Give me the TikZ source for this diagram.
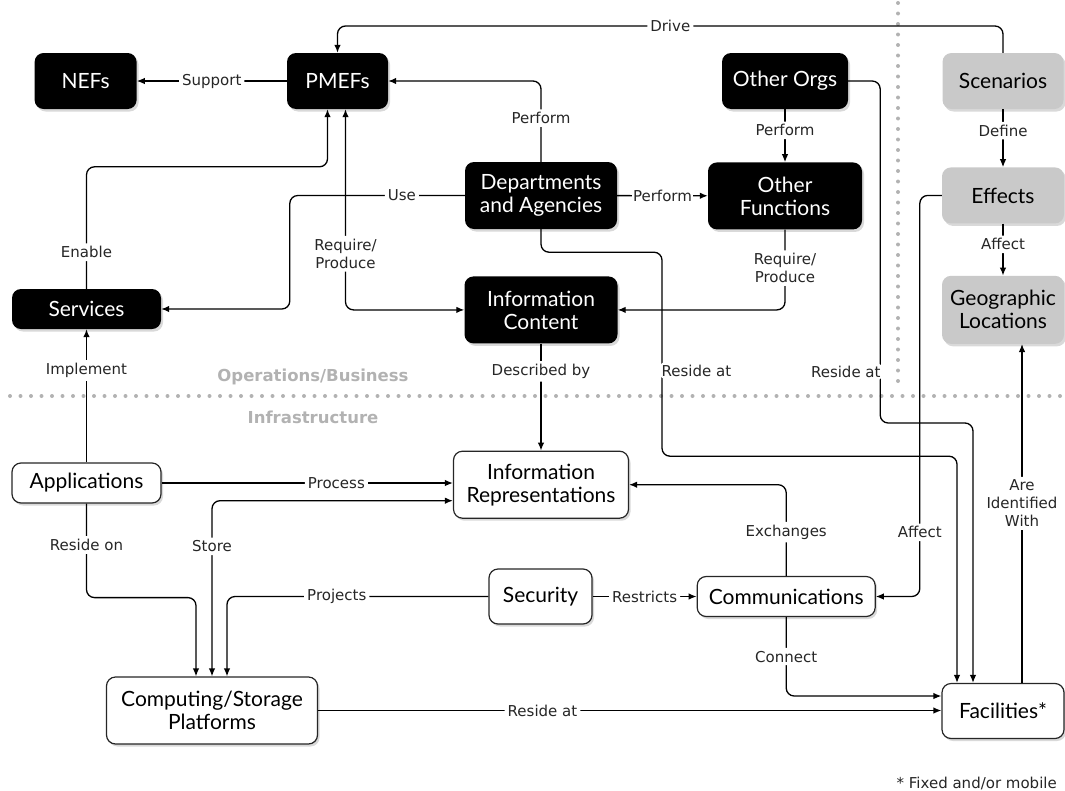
\documentclass[tikz,border=0pt]{standalone}
\usepackage{fontspec}
\newfontfamily\boxfont{Lato}
\newfontfamily\lblfont{DejaVu Sans}
\usetikzlibrary{arrows.meta, positioning, shadows}

\begin{document}
\begin{tikzpicture}[
    x=1pt, y=-1pt,
    every node/.style={font=\boxfont\fontsize{21}{23}\selectfont},
    box/.style={
        rounded corners=9pt,
        align=center,
        inner sep=3pt,
        drop shadow={shadow xshift=2pt, shadow yshift=-2.5pt, opacity=.3}
    },
    ops/.style={box, fill=black, text=white},
    threat/.style={box, fill=gray!42, text=black},
    infra/.style={box, draw=black!85, line width=1.2pt, fill=white, text=black},
    lbl/.style={font=\lblfont\fontsize{15}{18}\selectfont, fill=white, inner sep=3pt, text=black!85, align=center},
    zone/.style={font=\lblfont\bfseries\fontsize{16.5}{18}\selectfont, text=black!30},
    sepline/.style={draw=black!30, line width=4pt, line cap=round, dash pattern=on 0pt off 10.5pt},
    arrow/.style={-{Latex[length=8pt,width=6.5pt]}, line width=1.3pt, rounded corners=8pt},
    arrowboth/.style={arrow, {Latex[length=8pt,width=6.5pt]}-{Latex[length=8pt,width=6.5pt]}}
]
\useasboundingbox (0,0) rectangle (1065,790);

% zone separators
\draw[sepline] (10,396) -- (1062,396);
\draw[sepline] (898,3) -- (898,388);
\node[zone] (opslbl) at (313,377) {Operations/Business};
\node[zone] (infralbl) at (313,417) {Infrastructure};

% operations / business
\node[ops, minimum width=101pt, minimum height=56pt] (pmefs) at (337.5,81) {PMEFs};
\node[ops, minimum width=102pt, minimum height=56pt, left=150pt of pmefs] (nefs) {NEFs};
\node[ops, minimum width=126pt, minimum height=56pt] (orgs) at (785,81) {Other Orgs};
\node[ops, minimum width=152pt, minimum height=67pt] (dept) at (541,195.5) {Departments\\and Agencies};
\node[ops, minimum width=154pt, minimum height=67pt, below=53pt of orgs] (ofun) {Other\\Functions};
\node[ops, minimum width=149pt, minimum height=40pt] (services) at (86.5,309) {Services};
\node[ops, minimum width=153pt, minimum height=67pt, below=47pt of dept] (icont) {Information\\Content};

% threats
\node[threat, minimum width=121pt, minimum height=56pt] (scen) at (1003,81) {Scenarios};
\node[threat, minimum width=122pt, minimum height=56pt, below=58pt of scen] (effects) {Effects};
\node[threat, minimum width=122pt, minimum height=68pt, below=52pt of effects] (geo) {Geographic\\Locations};

% infrastructure
\node[infra, minimum width=149pt, minimum height=40pt] (apps) at (86.5,483) {Applications};
\node[infra, minimum width=175pt, minimum height=67pt, below=107pt of icont] (irep) {Information\\Representations};
\node[infra, minimum width=103pt, minimum height=55pt] (sec) at (540.5,596.5) {Security};
\node[infra, minimum width=178pt, minimum height=40pt, right=104pt of sec] (comms) {Communications};
\node[infra, minimum width=211pt, minimum height=67pt] (comp) at (212,710.5) {Computing/Storage\\Platforms};
\node[infra, minimum width=122pt, minimum height=55pt] (fac) at (1003,711) {Facilities*};

\node[lbl, anchor=east] (note) at (1060,783) {* Fixed and/or mobile};

\coordinate (drv) at (0,26);

% connectors
\draw[arrow] (scen.north) |- node[lbl, pos=.75]{Drive} (pmefs.north |- drv) -- (pmefs.north);
\draw[arrow] (pmefs) -- node[lbl]{Support} (nefs);
\draw[arrow] (dept.north) |- node[lbl, pos=.27]{Perform} (pmefs.east);
\draw[arrow] (orgs) -- node[lbl, pos=.4]{Perform} (ofun);
\draw[arrow] (dept) -- node[lbl, inner xsep=1pt]{Perform} (ofun);
\draw[arrow] (dept.west) -- node[lbl, pos=.36]{Use} ++(-175,0) |- (services.east);
\draw[arrow] (services.north) -- node[lbl, pos=.3]{Enable} ++(0,-122) -| ([xshift=-10pt]pmefs.south);
\draw[arrowboth] ([xshift=8pt]pmefs.south) |- node[lbl, pos=.36]{Require/\\Produce} (icont.west);
\draw[arrow] (ofun.south) |- node[lbl, pos=.24]{Require/\\Produce} (icont.east);
\draw[arrow] (dept.south) |- ++(121,23) -- node[lbl, pos=.58, anchor=west, xshift=-4pt]{Reside at} ++(0,204) -| ([xshift=-46pt]fac.north);
\draw[arrow] (orgs.east) -- ++(32,0) -- node[lbl, pos=.85, anchor=east, xshift=4pt]{Reside at} ++(0,342) -| ([xshift=-30pt]fac.north);
\draw[arrow] (effects.west) -- ++(-22,0) |- node[lbl, pos=.42]{Affect} (comms.east);
\draw[arrow] (scen) -- node[lbl, pos=.37]{Define} (effects);
\draw[arrow] (effects) -- node[lbl, pos=.4]{Affect} (geo);
\draw[arrow] ([xshift=19pt]fac.north) -- node[lbl, pos=.53]{Are\\Identified\\With} ([xshift=19pt]geo.south);
\draw[arrow] (icont) -- node[lbl, pos=.26]{Described by} (irep);
\draw[arrow] (apps) -- node[lbl, pos=.69]{Implement} (services);
\draw[arrow] (apps.east) -- node[lbl, pos=.6]{Process} (apps.east -| irep.west);
\draw[arrowboth] (comp.north) |- node[lbl, pos=.37]{Store} ([yshift=-16pt]irep.west);
\draw[arrow] (apps.south) -- node[lbl, pos=.44]{Reside on} ++(0,94) -| ([xshift=-16pt]comp.north);
\draw[arrow] (sec.west) -| node[lbl, pos=.29]{Projects} ([xshift=15pt]comp.north);
\draw[arrow] (sec) -- node[lbl]{Restricts} (comms);
\draw[arrow] (comms.north) |- node[lbl, pos=.24]{Exchanges} (irep.east);
\draw[arrow] (comms.south) |- node[lbl, pos=.25]{Connect} ([yshift=15pt]fac.west);
\draw[arrow] (comp.east) -- node[lbl, pos=.36]{Reside at} (comp.east -| fac.west);

\end{tikzpicture}
\end{document}
